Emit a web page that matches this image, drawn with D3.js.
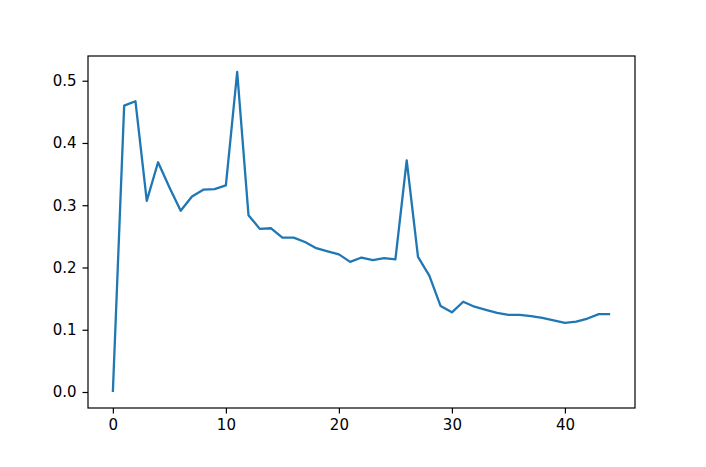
<!DOCTYPE html>
<html>
<head>
<meta charset="utf-8">
<script src="https://cdn.jsdelivr.net/npm/d3@7"></script>
<style>
  html, body { margin: 0; padding: 0; background: #fff; }
  svg { display: block; }
  .tick text { font-family: "DejaVu Sans", sans-serif; font-size: 15px; fill: #000; }
</style>
</head>
<body>
<svg id="chart" width="706" height="467"></svg>
<script>
const xValues = d3.range(0, 45);
const yValues = [
  0.000, 0.460, 0.467, 0.307, 0.369, 0.329, 0.291, 0.314, 0.325, 0.326,
  0.332, 0.514, 0.284, 0.262, 0.263, 0.248, 0.248, 0.241, 0.231, 0.226,
  0.221, 0.209, 0.216, 0.212, 0.215, 0.213, 0.372, 0.217, 0.187, 0.138,
  0.128, 0.145, 0.137, 0.132, 0.127, 0.124, 0.124, 0.122, 0.119, 0.115,
  0.111, 0.113, 0.118, 0.125, 0.125
];
const xTicks = [0, 10, 20, 30, 40];
const yTicks = [0.0, 0.1, 0.2, 0.3, 0.4, 0.5];

const svg = d3.select("#chart");
const mLeft = 88, mRight = 635, mTop = 56, mBottom = 408;

const xMin = d3.min(xValues), xMax = d3.max(xValues);
const yMin = d3.min(yValues), yMax = d3.max(yValues);
const xPad = (xMax - xMin) * 0.05, yPad = (yMax - yMin) * 0.05;

const x = d3.scaleLinear().domain([xMin - xPad, xMax + xPad]).range([mLeft, mRight]);
const y = d3.scaleLinear().domain([yMin - yPad, yMax + yPad]).range([mBottom, mTop]);

const line = d3.line().x((d, i) => x(xValues[i])).y(d => y(d));
svg.append("path")
  .datum(yValues)
  .attr("d", line)
  .attr("fill", "none")
  .attr("stroke", "#1f77b4")
  .attr("stroke-width", 2.3)
  .attr("stroke-linejoin", "round")
  .attr("stroke-linecap", "butt");

const xAxis = svg.append("g")
  .attr("transform", `translate(0,${mBottom})`)
  .call(d3.axisBottom(x).tickValues(xTicks).tickFormat(d3.format("d")).tickSizeOuter(0).tickSize(5.5).tickPadding(6));
const yAxis = svg.append("g")
  .attr("transform", `translate(${mLeft},0)`)
  .call(d3.axisLeft(y).tickValues(yTicks).tickFormat(d3.format(".1f")).tickSizeOuter(0).tickSize(5.5).tickPadding(6));

[xAxis, yAxis].forEach(g => {
  g.select(".domain").remove();
  g.selectAll(".tick line").attr("stroke", "#000").attr("stroke-width", 1.2);
});

svg.append("rect")
  .attr("x", mLeft).attr("y", mTop)
  .attr("width", mRight - mLeft).attr("height", mBottom - mTop)
  .attr("fill", "none").attr("stroke", "#000").attr("stroke-width", 1.2);
</script>
</body>
</html>
